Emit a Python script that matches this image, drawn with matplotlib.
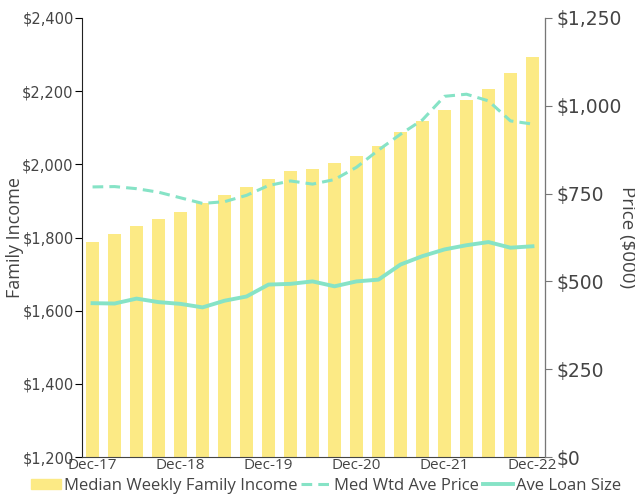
import matplotlib.pyplot as plt
from matplotlib.lines import Line2D
from matplotlib.patches import Patch
from matplotlib.ticker import FuncFormatter

quarters = ["Dec-17", "Mar-18", "Jun-18", "Sep-18", "Dec-18", "Mar-19", "Jun-19",
            "Sep-19", "Dec-19", "Mar-20", "Jun-20", "Sep-20", "Dec-20", "Mar-21",
            "Jun-21", "Sep-21", "Dec-21", "Mar-22", "Jun-22", "Sep-22", "Dec-22"]
family_income = [1788, 1810, 1832, 1851, 1870, 1894, 1917, 1938, 1960, 1982, 1988,
                 2004, 2024, 2051, 2089, 2119, 2149, 2177, 2206, 2251, 2294]
med_price = [769, 770, 764, 754, 738, 722, 727, 745, 773, 786, 777,
             790, 825, 874, 919, 960, 1027, 1033, 1014, 957, 948]
loan_size = [438, 437, 451, 441, 436, 426, 445, 457, 491, 493, 500,
             486, 500, 505, 548, 572, 591, 603, 612, 596, 600]

bar_color = "#FCEA85"
line_color = "#86E3C6"
text_color = "#444444"
plt.rcParams['font.family'] = ['Open Sans', 'DejaVu Sans']

fig = plt.figure(figsize=(6.35, 4.95), dpi=100)
ax = fig.add_axes([82 / 635, 1 - 457 / 495, 463 / 635, 439 / 495])
ax2 = ax.twinx()

x = list(range(len(quarters)))
ax.bar(x, family_income, width=0.6, color=bar_color, zorder=1)
ax.set_ylim(1200, 2400)
ax.set_yticks(range(1200, 2401, 200))
ax.yaxis.set_major_formatter(FuncFormatter(lambda v, p: f"${v:,.0f}"))
ax.set_xlim(-0.48, 20.57)
ax.set_xticks(x[::4])
ax.set_xticklabels(quarters[::4])
ax.tick_params(axis="x", length=0, labelsize=11, labelcolor=text_color, pad=1)
ax.tick_params(axis="y", length=5, labelsize=10.5, labelcolor=text_color, pad=1)
for t in ax.get_yticklabels():
    t.set_family("DejaVu Sans")
ax.set_ylabel("Family Income", fontsize=13, color=text_color, va="center")
ax.yaxis.set_label_coords(-0.145, 0.5)

ax2.plot(x, med_price, color=line_color, lw=2.2, ls=(0, (3.5, 2)), zorder=3)
ax2.plot(x, loan_size, color=line_color, lw=2.8, zorder=3)
ax2.set_ylim(0, 1250)
ax2.set_yticks(range(0, 1251, 250))
ax2.yaxis.set_major_formatter(FuncFormatter(lambda v, p: f"${v:,.0f}"))
ax2.tick_params(axis="y", length=5, labelsize=13.5, labelcolor=text_color,
                color="#777777", pad=3)
for t in ax2.get_yticklabels():
    t.set_family("DejaVu Sans")
ax2.set_ylabel("Price ($000)", fontsize=13.5, color=text_color, rotation=-90,
               va="center")
ax2.yaxis.set_label_coords(1.177, 0.5)

for a in (ax, ax2):
    a.spines["top"].set_visible(False)
ax.spines["left"].set_color("#222222")
ax.spines["bottom"].set_color("#444444")
ax2.spines["right"].set_color("#777777")
ax2.spines["left"].set_visible(False)
ax2.spines["bottom"].set_visible(False)

handles = [Patch(color=bar_color),
           Line2D([], [], color=line_color, lw=2.2, ls=(0, (3.5, 2))),
           Line2D([], [], color=line_color, lw=2.8)]
labels = ["Median Weekly Family Income", "Med Wtd Ave Price", "Ave Loan Size"]
fig.legend(handles, labels, loc="center", bbox_to_anchor=(326 / 635, 1 - 486 / 495),
           ncol=3, frameon=False, fontsize=12, handlelength=1.8,
           handleheight=0.6, handletextpad=0.2, columnspacing=0.2,
           labelcolor=text_color)

fig.savefig("out.png", dpi=100)
